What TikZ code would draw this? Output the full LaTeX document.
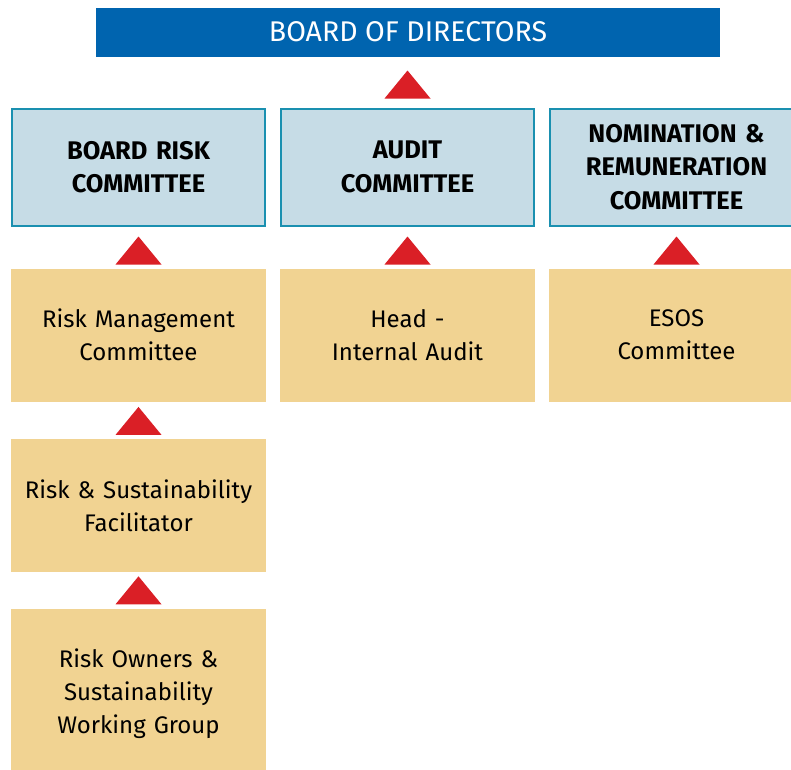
\documentclass[tikz,border=0pt]{standalone}
\usepackage{fontspec}
\setmainfont{Fira Sans}
\usetikzlibrary{positioning}
\definecolor{boardblue}{HTML}{0064AF}
\definecolor{committeefill}{HTML}{C6DCE6}
\definecolor{committeeedge}{HTML}{1A90B0}
\definecolor{unitfill}{HTML}{F1D392}
\definecolor{arrowred}{HTML}{DA1F26}

\begin{document}
\begin{tikzpicture}[x=1pt, y=1pt]
    % Block styles
    \tikzstyle{board} = [rectangle, fill=boardblue, text=white, minimum width=624pt, minimum height=49pt, font=\fontsize{28.5}{32}\selectfont]
    \tikzstyle{committee} = [rectangle, draw=committeeedge, line width=2pt, fill=committeefill, text width=236pt, align=center, minimum width=253pt, minimum height=117pt, font=\bfseries\fontsize{25.5}{33.5}\selectfont]
    \tikzstyle{unit} = [rectangle, fill=unitfill, text width=240pt, align=center, minimum width=255pt, minimum height=133pt, font=\fontsize{24}{33}\selectfont]
    \tikzstyle{tri} = [fill=arrowred]
    \useasboundingbox (0,0) rectangle (791,-769);
    % Board
    \node[board] (bod) at (408,-32) {BOARD OF DIRECTORS};
    % Committees
    \node[committee] (brc) at (138.5,-167) {BOARD RISK\\COMMITTEE};
    \node[committee, right=14pt of brc] (ac) {AUDIT\\COMMITTEE};
    \node[committee, right=14pt of ac] (nrc) {NOMINATION \&\\REMUNERATION\\COMMITTEE};
    % Units below
    \node[unit, below=42pt of brc] (rmc) {Risk Management\\Committee};
    \node[unit, below=42pt of ac] (hia) {Head -\\Internal Audit};
    \node[unit, below=42pt of nrc] (esos) {ESOS\\Committee};
    \node[unit, below=37pt of rmc] (rsf) {Risk \& Sustainability\\Facilitator};
    \node[unit, below=36pt of rsf, minimum height=170pt] (row) {Risk Owners \&\\Sustainability\\Working Group};
    % Reporting arrows
    \fill[tri] ([yshift=9pt]ac.north) +(-23,0) -- +(23,0) -- +(0,28) -- cycle;
    \foreach \n in {rmc,hia,esos,rsf,row}
        \fill[tri] ([yshift=4pt]\n.north) +(-23,0) -- +(23,0) -- +(0,28) -- cycle;
\end{tikzpicture}
\end{document}
